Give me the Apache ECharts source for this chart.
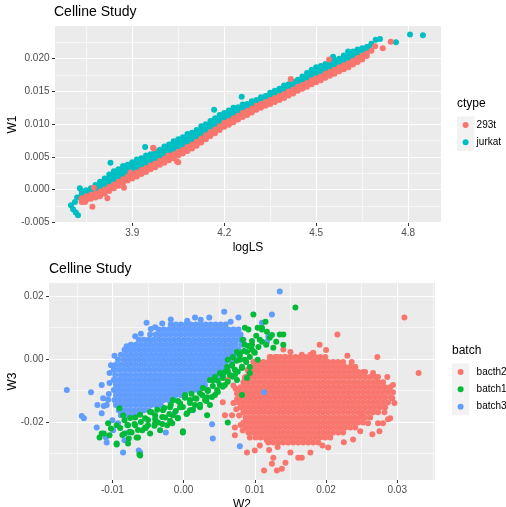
<!DOCTYPE html>
<html>
<head>
<meta charset="utf-8">
<script src="https://cdn.jsdelivr.net/npm/echarts@6.0.0/dist/echarts.min.js"></script>
<style>
  html, body { margin: 0; padding: 0; background: #ffffff; }
  #chart { width: 506px; height: 507px; }
</style>
</head>
<body>
<div id="chart"></div>
<script>
// ---------- Panel 1: W1 against logLS, coloured by cell type ----------
// Each column: [logLS, [W1 values read at that logLS]]
const jurkatCols = [
  [3.735, [-0.0002, -0.0007, -0.0012]],
  [3.750, [-0.0001, -0.0005, -0.0010]],
  [3.765, [0.0002, -0.0002, -0.0007]],
  [3.780, [0.0007, 0.0004, -0.0001, -0.0004]],
  [3.795, [0.0012, 0.0008, 0.0003, -0.0001]],
  [3.810, [0.0017, 0.0013, 0.0007, 0.0003]],
  [3.825, [0.0023, 0.0018, 0.0012, 0.0007]],
  [3.840, [0.0028, 0.0022, 0.0016, 0.0011]],
  [3.855, [0.0031, 0.0026, 0.0020, 0.0015]],
  [3.870, [0.0036, 0.0030, 0.0024, 0.0019]],
  [3.885, [0.0038, 0.0033, 0.0027, 0.0022]],
  [3.900, [0.0042, 0.0036, 0.0031, 0.0025]],
  [3.915, [0.0046, 0.0039, 0.0034, 0.0028]],
  [3.930, [0.0048, 0.0042, 0.0037, 0.0031]],
  [3.945, [0.0052, 0.0045, 0.0040, 0.0034]],
  [3.960, [0.0054, 0.0048, 0.0043, 0.0037]],
  [3.975, [0.0058, 0.0051, 0.0046, 0.0040]],
  [3.990, [0.0061, 0.0055, 0.0049, 0.0043]],
  [4.005, [0.0066, 0.0059, 0.0053, 0.0046]],
  [4.020, [0.0069, 0.0062, 0.0057, 0.0050]],
  [4.035, [0.0074, 0.0067, 0.0061, 0.0055]],
  [4.050, [0.0077, 0.0071, 0.0065, 0.0059]],
  [4.065, [0.0080, 0.0074, 0.0068, 0.0062]],
  [4.080, [0.0085, 0.0077, 0.0072, 0.0065]],
  [4.095, [0.0087, 0.0080, 0.0075, 0.0068]],
  [4.110, [0.0091, 0.0084, 0.0079, 0.0072]],
  [4.125, [0.0097, 0.0089, 0.0084, 0.0077]],
  [4.140, [0.0100, 0.0094, 0.0088, 0.0082]],
  [4.155, [0.0105, 0.0099, 0.0093, 0.0087]],
  [4.170, [0.0109, 0.0102, 0.0097, 0.0090]],
  [4.185, [0.0114, 0.0106, 0.0101, 0.0094]],
  [4.200, [0.0117, 0.0110, 0.0105, 0.0098]],
  [4.215, [0.0121, 0.0114, 0.0108, 0.0101]],
  [4.230, [0.0125, 0.0117, 0.0112, 0.0105]],
  [4.245, [0.0126, 0.0120, 0.0115, 0.0109]],
  [4.260, [0.0130, 0.0124, 0.0118, 0.0113]],
  [4.275, [0.0131, 0.0127, 0.0121, 0.0117]],
  [4.290, [0.0135, 0.0130, 0.0125, 0.0121]],
  [4.305, [0.0137, 0.0133, 0.0128, 0.0125]],
  [4.320, [0.0141, 0.0136, 0.0131, 0.0128]],
  [4.335, [0.0143, 0.0139, 0.0134, 0.0131]],
  [4.350, [0.0148, 0.0143, 0.0138, 0.0134]],
  [4.365, [0.0151, 0.0146, 0.0141, 0.0136]],
  [4.380, [0.0154, 0.0150, 0.0144, 0.0140]],
  [4.395, [0.0159, 0.0153, 0.0148, 0.0143]],
  [4.410, [0.0161, 0.0156, 0.0151, 0.0146]],
  [4.425, [0.0165, 0.0160, 0.0154, 0.0150]],
  [4.440, [0.0168, 0.0163, 0.0158, 0.0153]],
  [4.455, [0.0173, 0.0167, 0.0162, 0.0157]],
  [4.470, [0.0178, 0.0173, 0.0167, 0.0162]],
  [4.485, [0.0183, 0.0178, 0.0172, 0.0167]],
  [4.500, [0.0187, 0.0181, 0.0176, 0.0170]],
  [4.515, [0.0189, 0.0184, 0.0179, 0.0174]],
  [4.530, [0.0192, 0.0187, 0.0181, 0.0177]],
  [4.545, [0.0194, 0.0190, 0.0185, 0.0181]],
  [4.560, [0.0198, 0.0193, 0.0188, 0.0185]],
  [4.575, [0.0200, 0.0197, 0.0192, 0.0189]],
  [4.590, [0.0205, 0.0200, 0.0195, 0.0192]],
  [4.605, [0.0207, 0.0203, 0.0198, 0.0195]],
  [4.620, [0.0211, 0.0206, 0.0202, 0.0198]],
  [4.635, [0.0214, 0.0209, 0.0205, 0.0203]],
  [4.650, [0.0216, 0.0212, 0.0208]],
  [4.665, [0.0218, 0.0213]]
];
const jurkatExtra = [
  [3.700, -0.0024], [3.707, -0.0030], [3.716, -0.0035], [3.723, -0.0039],
  [3.713, -0.0019], [3.720, -0.0012], [3.729, 0.0002], [3.829, 0.0041],
  [3.942, 0.0065], [4.167, 0.0122], [4.257, 0.0142], [4.555, 0.0203],
  [4.604, 0.0211], [4.672, 0.0218], [4.680, 0.0223], [4.694, 0.0229],
  [4.708, 0.0230], [4.760, 0.0225], [4.806, 0.0237], [4.848, 0.0236]
];
const t293Cols = [
  [3.735, [-0.0013, -0.0016, -0.0019]],
  [3.750, [-0.0010, -0.0013, -0.0016]],
  [3.765, [-0.0008, -0.0011, -0.0014]],
  [3.780, [-0.0006, -0.0009, -0.0012]],
  [3.795, [-0.0004, -0.0007, -0.0010]],
  [3.810, [0.0000, -0.0003, -0.0006]],
  [3.825, [0.0004, 0.0001, -0.0002]],
  [3.840, [0.0008, 0.0005, 0.0002]],
  [3.855, [0.0012, 0.0009, 0.0006]],
  [3.870, [0.0016, 0.0013, 0.0010]],
  [3.885, [0.0020, 0.0017, 0.0014]],
  [3.900, [0.0023, 0.0020, 0.0017]],
  [3.915, [0.0026, 0.0023, 0.0020]],
  [3.930, [0.0030, 0.0027, 0.0024]],
  [3.945, [0.0033, 0.0030, 0.0027]],
  [3.960, [0.0037, 0.0034, 0.0031]],
  [3.975, [0.0040, 0.0037, 0.0034]],
  [3.990, [0.0044, 0.0041, 0.0038]],
  [4.005, [0.0047, 0.0044, 0.0041]],
  [4.020, [0.0051, 0.0048, 0.0045]],
  [4.035, [0.0054, 0.0051, 0.0048]],
  [4.050, [0.0058, 0.0055, 0.0052]],
  [4.065, [0.0061, 0.0058, 0.0055]],
  [4.080, [0.0065, 0.0062, 0.0059]],
  [4.095, [0.0069, 0.0066, 0.0063]],
  [4.110, [0.0073, 0.0070, 0.0067]],
  [4.125, [0.0078, 0.0075, 0.0072]],
  [4.140, [0.0083, 0.0080, 0.0077]],
  [4.155, [0.0088, 0.0085, 0.0082]],
  [4.170, [0.0092, 0.0089, 0.0086]],
  [4.185, [0.0097, 0.0094, 0.0091]],
  [4.200, [0.0102, 0.0099, 0.0096]],
  [4.215, [0.0105, 0.0102, 0.0099]],
  [4.230, [0.0109, 0.0106, 0.0103]],
  [4.245, [0.0113, 0.0110, 0.0107]],
  [4.260, [0.0117, 0.0114, 0.0111]],
  [4.275, [0.0120, 0.0117, 0.0114]],
  [4.290, [0.0124, 0.0121, 0.0118]],
  [4.305, [0.0128, 0.0125, 0.0122]],
  [4.320, [0.0131, 0.0128, 0.0125]],
  [4.335, [0.0134, 0.0131, 0.0128]],
  [4.350, [0.0137, 0.0134, 0.0131]],
  [4.365, [0.0140, 0.0137, 0.0134]],
  [4.380, [0.0143, 0.0140, 0.0137]],
  [4.395, [0.0146, 0.0143, 0.0140]],
  [4.410, [0.0150, 0.0147, 0.0144]],
  [4.425, [0.0153, 0.0150, 0.0147]],
  [4.440, [0.0157, 0.0154, 0.0151]],
  [4.455, [0.0160, 0.0157, 0.0154]],
  [4.470, [0.0163, 0.0160, 0.0157]],
  [4.485, [0.0167, 0.0164, 0.0161]],
  [4.500, [0.0170, 0.0167, 0.0164]],
  [4.515, [0.0173, 0.0170, 0.0167]],
  [4.530, [0.0177, 0.0174, 0.0171]],
  [4.545, [0.0180, 0.0177, 0.0174]],
  [4.560, [0.0183, 0.0180, 0.0177]],
  [4.575, [0.0187, 0.0184, 0.0181]],
  [4.590, [0.0190, 0.0187, 0.0184]],
  [4.605, [0.0193, 0.0190, 0.0187]],
  [4.620, [0.0197, 0.0194, 0.0191]],
  [4.635, [0.0201, 0.0198, 0.0195]],
  [4.650, [0.0205, 0.0202, 0.0199]],
  [4.665, [0.0208, 0.0204]]
];
const t293Extra = [
  [3.746, -0.0019], [3.770, -0.0026], [3.775, 0.0003], [3.797, -0.0003],
  [3.819, -0.0013], [3.873, 0.0003], [3.894, 0.0026], [3.968, 0.0064],
  [3.970, 0.0063], [4.017, 0.0052], [4.046, 0.0043], [4.050, 0.0042],
  [4.417, 0.0169], [4.542, 0.0199], [4.680, 0.0212], [4.692, 0.0219],
  [4.717, 0.0216], [4.743, 0.0226]
];
const logLSTicks = [3.9, 4.2, 4.5, 4.8];
const logLSMinor = [3.75, 4.05, 4.35, 4.65];
const w1Ticks = [-0.005, 0.000, 0.005, 0.010, 0.015, 0.020];
const w1Minor = [-0.0025, 0.0025, 0.0075, 0.0125, 0.0175, 0.0225];

// ---------- Panel 2: W3 against W2, coloured by batch ----------
// Each row: [W3, [W2 values read along that W3 level]]
const batch3Rows = [
  [0.0109, [-0.0018, -0.0011, -0.0004, 0.0003, 0.0010, 0.0017, 0.0024, 0.0031, 0.0038, 0.0045, 0.0052, 0.0059]],
  [0.0093, [-0.0035, -0.0028, -0.0021, -0.0014, -0.0007, 0.0000, 0.0007, 0.0014, 0.0021, 0.0028, 0.0035, 0.0042, 0.0049, 0.0056, 0.0063, 0.0070, 0.0077]],
  [0.0077, [-0.0047, -0.0039, -0.0032, -0.0025, -0.0018, -0.0011, -0.0004, 0.0003, 0.0010, 0.0017, 0.0024, 0.0031, 0.0038, 0.0045, 0.0052, 0.0059, 0.0066, 0.0073, 0.0080]],
  [0.0061, [-0.0063, -0.0056, -0.0049, -0.0042, -0.0035, -0.0028, -0.0021, -0.0014, -0.0007, 0.0000, 0.0007, 0.0014, 0.0021, 0.0028, 0.0035, 0.0042, 0.0049, 0.0056, 0.0063, 0.0070, 0.0077, 0.0084]],
  [0.0045, [-0.0074, -0.0067, -0.0060, -0.0053, -0.0046, -0.0039, -0.0032, -0.0025, -0.0018, -0.0011, -0.0004, 0.0003, 0.0010, 0.0017, 0.0024, 0.0031, 0.0038, 0.0045, 0.0052, 0.0059, 0.0066, 0.0073, 0.0081]],
  [0.0029, [-0.0083, -0.0077, -0.0070, -0.0063, -0.0056, -0.0049, -0.0042, -0.0035, -0.0028, -0.0021, -0.0014, -0.0007, 0.0000, 0.0007, 0.0014, 0.0021, 0.0028, 0.0035, 0.0042, 0.0049, 0.0056, 0.0063, 0.0070, 0.0077]],
  [0.0013, [-0.0088, -0.0081, -0.0074, -0.0067, -0.0060, -0.0053, -0.0046, -0.0039, -0.0032, -0.0025, -0.0018, -0.0011, -0.0004, 0.0003, 0.0010, 0.0017, 0.0024, 0.0031, 0.0038, 0.0045, 0.0052, 0.0059, 0.0066, 0.0073]],
  [-0.0003, [-0.0092, -0.0084, -0.0077, -0.0070, -0.0063, -0.0056, -0.0049, -0.0042, -0.0035, -0.0028, -0.0021, -0.0014, -0.0007, 0.0000, 0.0007, 0.0014, 0.0021, 0.0028, 0.0035, 0.0042, 0.0049, 0.0056, 0.0063, 0.0069]],
  [-0.0019, [-0.0095, -0.0088, -0.0081, -0.0074, -0.0067, -0.0060, -0.0053, -0.0046, -0.0039, -0.0032, -0.0025, -0.0018, -0.0011, -0.0004, 0.0003, 0.0010, 0.0017, 0.0024, 0.0031, 0.0038, 0.0045, 0.0052, 0.0059]],
  [-0.0035, [-0.0098, -0.0091, -0.0084, -0.0077, -0.0070, -0.0063, -0.0056, -0.0049, -0.0042, -0.0035, -0.0028, -0.0021, -0.0014, -0.0007, 0.0000, 0.0007, 0.0014, 0.0021, 0.0028, 0.0035, 0.0042, 0.0049, 0.0056]],
  [-0.0051, [-0.0096, -0.0088, -0.0081, -0.0074, -0.0067, -0.0060, -0.0053, -0.0046, -0.0039, -0.0032, -0.0025, -0.0018, -0.0011, -0.0004, 0.0003, 0.0010, 0.0017, 0.0024, 0.0031, 0.0038, 0.0045, 0.0051]],
  [-0.0067, [-0.0098, -0.0091, -0.0084, -0.0077, -0.0070, -0.0063, -0.0056, -0.0049, -0.0042, -0.0035, -0.0028, -0.0021, -0.0014, -0.0007, 0.0000, 0.0007, 0.0014, 0.0021, 0.0028, 0.0035, 0.0042]],
  [-0.0083, [-0.0095, -0.0088, -0.0081, -0.0074, -0.0067, -0.0060, -0.0053, -0.0046, -0.0039, -0.0032, -0.0025, -0.0018, -0.0011, -0.0004, 0.0003, 0.0010, 0.0017, 0.0024, 0.0030]],
  [-0.0099, [-0.0098, -0.0091, -0.0084, -0.0077, -0.0070, -0.0063, -0.0056, -0.0049, -0.0042, -0.0035, -0.0028, -0.0021, -0.0014, -0.0007, 0.0000, 0.0007, 0.0014, 0.0020]],
  [-0.0115, [-0.0095, -0.0088, -0.0081, -0.0074, -0.0067, -0.0060, -0.0053, -0.0046, -0.0039, -0.0032, -0.0025, -0.0018, -0.0011, -0.0004, 0.0002]],
  [-0.0131, [-0.0097, -0.0091, -0.0084, -0.0077, -0.0070, -0.0063, -0.0056, -0.0049, -0.0042, -0.0035, -0.0028, -0.0021, -0.0015]],
  [-0.0147, [-0.0095, -0.0088, -0.0081, -0.0074, -0.0067, -0.0060, -0.0053, -0.0046, -0.0039, -0.0032]],
  [-0.0163, [-0.0091, -0.0084, -0.0077, -0.0070, -0.0063, -0.0056, -0.0049]],
  [-0.0179, [-0.0088, -0.0081, -0.0074, -0.0067]]
];
const batch3Extra = [
  [-0.0018, 0.0125], [0.0016, 0.0131], [0.0036, 0.0131], [0.0057, 0.0150], [0.0077, 0.0131],
  [-0.0052, 0.0115], [0.0005, 0.0121], [0.0024, 0.0124], [-0.0030, 0.0112], [0.0066, 0.0118],
  [-0.0164, -0.0099], [-0.0130, -0.0106], [-0.0143, -0.0182], [-0.0140, -0.0189], [-0.0122, -0.0218],
  [-0.0109, -0.0250], [-0.0085, -0.0298], [-0.0061, -0.0298], [-0.0063, -0.0291], [-0.0025, -0.0234],
  [0.0040, -0.0208], [0.0041, -0.0253], [0.0079, -0.0278], [0.0113, -0.0106], [0.0135, 0.0214],
  [0.0124, 0.0141], [0.0110, 0.0115], [0.0119, 0.0070], [0.0117, 0.0054], [-0.0121, -0.0147],
  [-0.0115, -0.0083], [-0.0104, -0.0077], [-0.0115, -0.0173], [-0.0108, -0.0266], [-0.0083, -0.0259],
  [-0.0078, -0.0234], [-0.0099, -0.0227], [-0.0105, -0.0112], [-0.0012, -0.0170], [0.0013, -0.0163],
  [-0.0104, -0.0045], [-0.0106, -0.0130], [-0.0102, -0.0020], [-0.0097, 0.0010], [-0.0112, -0.0150],
  [-0.0100, -0.0195], [-0.0092, -0.0205], [-0.0080, 0.0040], [-0.0068, 0.0072], [-0.0060, 0.0080],
  [-0.0046, 0.0095], [-0.0040, 0.0100], [-0.0113, -0.0125], [-0.0108, -0.0147]
];
const batch1Points = [
  [-0.0118, -0.0250], [-0.0112, -0.0237], [-0.0106, -0.0205], [-0.0104, -0.0243], [-0.0102, -0.0221],
  [-0.0094, -0.0269], [-0.0094, -0.0211], [-0.0090, -0.0157], [-0.0085, -0.0179], [-0.0083, -0.0237],
  [-0.0078, -0.0269], [-0.0078, -0.0211], [-0.0073, -0.0234], [-0.0068, -0.0186], [-0.0068, -0.0211],
  [-0.0064, -0.0250], [-0.0061, -0.0307], [-0.0054, -0.0189], [-0.0054, -0.0218], [-0.0047, -0.0237],
  [-0.0045, -0.0170], [-0.0040, -0.0179], [-0.0040, -0.0205], [-0.0033, -0.0227], [-0.0029, -0.0163],
  [-0.0026, -0.0186], [-0.0023, -0.0211], [-0.0019, -0.0154], [-0.0016, -0.0205], [-0.0015, -0.0179],
  [-0.0015, -0.0131], [-0.0005, -0.0154], [-0.0005, -0.0141], [-0.0001, -0.0234], [0.0005, -0.0173],
  [0.0009, -0.0131], [0.0016, -0.0125], [0.0023, -0.0109], [0.0023, -0.0154], [0.0027, -0.0093],
  [0.0033, -0.0122], [0.0033, -0.0179], [0.0034, -0.0099], [0.0037, -0.0147], [0.0041, -0.0067],
  [0.0044, -0.0058], [0.0047, -0.0099], [0.0051, -0.0045], [0.0051, -0.0083], [0.0055, -0.0061],
  [0.0061, -0.0026], [0.0062, -0.0003], [0.0062, -0.0202], [0.0065, -0.0051], [0.0069, 0.0006],
  [0.0072, -0.0035], [0.0075, 0.0022], [0.0075, -0.0067], [0.0079, 0.0019], [0.0082, -0.0029],
  [0.0082, -0.0115], [0.0083, 0.0061], [0.0086, 0.0099], [0.0089, 0.0022], [0.0089, -0.0061],
  [0.0091, 0.0093], [0.0093, -0.0026], [0.0093, -0.0045], [0.0096, 0.0045], [0.0098, 0.0141],
  [0.0100, 0.0019], [0.0104, 0.0099], [0.0104, -0.0003], [0.0107, 0.0061], [0.0117, 0.0086],
  [0.0121, 0.0067], [0.0126, 0.0035], [0.0135, 0.0077], [0.0140, 0.0045], [0.0140, 0.0077],
  [0.0157, 0.0163], [-0.0077, -0.0253], [-0.0062, -0.0304], [-0.0115, -0.0237], [-0.0094, -0.0272],
  [-0.0066, -0.0250], [-0.0001, -0.0230], [0.0068, -0.0019], [0.0058, -0.0042], [0.0079, -0.0003],
  [0.0016, -0.0147], [0.0002, -0.0115], [-0.0036, -0.0202], [-0.0050, -0.0211], [-0.0058, -0.0227],
  [-0.0083, -0.0195], [0.0009, -0.0163], [-0.0008, -0.0189], [0.0030, -0.0131], [0.0044, -0.0115],
  [0.0058, -0.0083], [0.0072, -0.0051], [0.0086, -0.0003], [0.0096, 0.0029], [0.0086, 0.0045],
  [0.0110, 0.0093], [0.0115, 0.0118], [0.0037, -0.0067],
  // the dense strip along the lower-right edge of batch3
  [-0.0089, -0.0220], [-0.0079, -0.0210], [-0.0069, -0.0207], [-0.0060, -0.0201], [-0.0050, -0.0194],
  [-0.0040, -0.0191], [-0.0030, -0.0185], [-0.0020, -0.0175], [-0.0011, -0.0166], [-0.0001, -0.0153],
  [0.0009, -0.0140], [0.0018, -0.0127], [0.0026, -0.0115], [0.0034, -0.0102], [0.0041, -0.0086],
  [0.0048, -0.0070], [0.0055, -0.0054], [0.0062, -0.0038], [0.0068, -0.0022], [0.0074, -0.0006],
  [0.0079, 0.0010], [0.0085, 0.0025], [0.0091, 0.0041], [0.0096, 0.0057], [0.0102, 0.0073],
  [-0.0086, -0.0242], [-0.0075, -0.0232], [-0.0064, -0.0226], [-0.0053, -0.0220], [-0.0041, -0.0213],
  [-0.0030, -0.0207], [-0.0019, -0.0197], [-0.0008, -0.0188], [0.0004, -0.0175], [0.0013, -0.0162],
  [0.0023, -0.0146], [0.0032, -0.0134], [0.0040, -0.0121], [0.0048, -0.0105], [0.0055, -0.0089],
  [0.0062, -0.0073], [0.0069, -0.0057], [0.0076, -0.0041], [0.0082, -0.0025], [0.0088, -0.0010],
  [0.0093, 0.0006], [0.0099, 0.0022], [0.0105, 0.0038], [0.0110, 0.0054],
  [-0.0047, -0.0169], [-0.0037, -0.0162], [-0.0027, -0.0156], [-0.0018, -0.0146], [-0.0008, -0.0134],
  [0.0002, -0.0124], [0.0011, -0.0111], [-0.0061, -0.0178], [-0.0075, -0.0188],
  [0.0110, 0.0099], [0.0124, 0.0076], [0.0116, 0.0045], [0.0130, 0.0054]
];
const bacth2Rows = [
  [0.0006, [0.0122, 0.0129, 0.0136, 0.0143, 0.0150, 0.0157, 0.0164, 0.0171, 0.0178, 0.0185, 0.0192, 0.0199]],
  [-0.0010, [0.0098, 0.0105, 0.0112, 0.0119, 0.0126, 0.0133, 0.0140, 0.0147, 0.0154, 0.0161, 0.0168, 0.0175, 0.0182, 0.0189, 0.0196, 0.0203, 0.0210, 0.0217, 0.0224]],
  [-0.0026, [0.0094, 0.0101, 0.0108, 0.0115, 0.0122, 0.0129, 0.0136, 0.0143, 0.0150, 0.0157, 0.0164, 0.0171, 0.0178, 0.0185, 0.0192, 0.0199, 0.0206, 0.0213, 0.0220, 0.0227, 0.0234, 0.0241]],
  [-0.0042, [0.0091, 0.0098, 0.0105, 0.0112, 0.0119, 0.0126, 0.0133, 0.0140, 0.0147, 0.0154, 0.0161, 0.0168, 0.0175, 0.0182, 0.0189, 0.0196, 0.0203, 0.0210, 0.0217, 0.0224, 0.0231, 0.0238, 0.0245, 0.0252]],
  [-0.0058, [0.0087, 0.0094, 0.0101, 0.0108, 0.0115, 0.0122, 0.0129, 0.0136, 0.0143, 0.0150, 0.0157, 0.0164, 0.0171, 0.0178, 0.0185, 0.0192, 0.0199, 0.0206, 0.0213, 0.0220, 0.0227, 0.0234, 0.0241, 0.0248, 0.0255, 0.0262, 0.0269]],
  [-0.0074, [0.0084, 0.0091, 0.0098, 0.0105, 0.0112, 0.0119, 0.0126, 0.0133, 0.0140, 0.0147, 0.0154, 0.0161, 0.0168, 0.0175, 0.0182, 0.0189, 0.0196, 0.0203, 0.0210, 0.0217, 0.0224, 0.0231, 0.0238, 0.0245, 0.0252, 0.0259, 0.0266, 0.0273, 0.0280]],
  [-0.0090, [0.0080, 0.0087, 0.0094, 0.0101, 0.0108, 0.0115, 0.0122, 0.0129, 0.0136, 0.0143, 0.0150, 0.0157, 0.0164, 0.0171, 0.0178, 0.0185, 0.0192, 0.0199, 0.0206, 0.0213, 0.0220, 0.0227, 0.0234, 0.0241, 0.0248, 0.0255, 0.0262, 0.0269, 0.0276, 0.0283, 0.0290]],
  [-0.0106, [0.0077, 0.0084, 0.0091, 0.0098, 0.0105, 0.0112, 0.0119, 0.0126, 0.0133, 0.0140, 0.0147, 0.0154, 0.0161, 0.0168, 0.0175, 0.0182, 0.0189, 0.0196, 0.0203, 0.0210, 0.0217, 0.0224, 0.0231, 0.0238, 0.0245, 0.0252, 0.0259, 0.0266, 0.0273, 0.0280, 0.0287, 0.0294]],
  [-0.0122, [0.0080, 0.0087, 0.0094, 0.0101, 0.0108, 0.0115, 0.0122, 0.0129, 0.0136, 0.0143, 0.0150, 0.0157, 0.0164, 0.0171, 0.0178, 0.0185, 0.0192, 0.0199, 0.0206, 0.0213, 0.0220, 0.0227, 0.0234, 0.0241, 0.0248, 0.0255, 0.0262, 0.0269, 0.0276, 0.0283, 0.0291]],
  [-0.0138, [0.0077, 0.0084, 0.0091, 0.0098, 0.0105, 0.0112, 0.0119, 0.0126, 0.0133, 0.0140, 0.0147, 0.0154, 0.0161, 0.0168, 0.0175, 0.0182, 0.0189, 0.0196, 0.0203, 0.0210, 0.0217, 0.0224, 0.0231, 0.0238, 0.0245, 0.0252, 0.0259, 0.0266, 0.0273, 0.0280, 0.0287]],
  [-0.0154, [0.0080, 0.0087, 0.0094, 0.0101, 0.0108, 0.0115, 0.0122, 0.0129, 0.0136, 0.0143, 0.0150, 0.0157, 0.0164, 0.0171, 0.0178, 0.0185, 0.0192, 0.0199, 0.0206, 0.0213, 0.0220, 0.0227, 0.0234, 0.0241, 0.0248, 0.0255, 0.0262, 0.0269, 0.0276, 0.0283]],
  [-0.0170, [0.0084, 0.0091, 0.0098, 0.0105, 0.0112, 0.0119, 0.0126, 0.0133, 0.0140, 0.0147, 0.0154, 0.0161, 0.0168, 0.0175, 0.0182, 0.0189, 0.0196, 0.0203, 0.0210, 0.0217, 0.0224, 0.0231, 0.0238, 0.0245, 0.0252, 0.0259, 0.0266, 0.0273]],
  [-0.0186, [0.0087, 0.0094, 0.0101, 0.0108, 0.0115, 0.0122, 0.0129, 0.0136, 0.0143, 0.0150, 0.0157, 0.0164, 0.0171, 0.0178, 0.0185, 0.0192, 0.0199, 0.0206, 0.0213, 0.0220, 0.0227, 0.0234, 0.0241, 0.0248, 0.0255, 0.0262]],
  [-0.0202, [0.0084, 0.0091, 0.0098, 0.0105, 0.0112, 0.0119, 0.0126, 0.0133, 0.0140, 0.0147, 0.0154, 0.0161, 0.0168, 0.0175, 0.0182, 0.0189, 0.0196, 0.0203, 0.0210, 0.0217, 0.0224, 0.0231, 0.0238, 0.0245, 0.0252]],
  [-0.0218, [0.0087, 0.0094, 0.0101, 0.0108, 0.0115, 0.0122, 0.0129, 0.0136, 0.0143, 0.0150, 0.0157, 0.0164, 0.0171, 0.0178, 0.0185, 0.0192, 0.0199, 0.0206, 0.0213, 0.0220, 0.0227, 0.0234, 0.0241]],
  [-0.0234, [0.0091, 0.0098, 0.0105, 0.0112, 0.0119, 0.0126, 0.0133, 0.0140, 0.0147, 0.0154, 0.0161, 0.0168, 0.0175, 0.0182, 0.0189, 0.0196, 0.0203, 0.0210, 0.0217, 0.0224]],
  [-0.0250, [0.0101, 0.0108, 0.0115, 0.0122, 0.0129, 0.0136, 0.0143, 0.0150, 0.0157, 0.0164, 0.0171, 0.0178, 0.0185, 0.0192, 0.0199, 0.0206]],
  [-0.0266, [0.0119, 0.0126, 0.0133, 0.0140, 0.0147, 0.0154, 0.0161, 0.0168, 0.0175, 0.0182, 0.0189]]
];
const bacth2Extra = [
  [0.0310, 0.0131], [0.0330, -0.0045], [0.0216, 0.0077], [0.0191, 0.0045], [0.0272, 0.0006],
  [0.0294, -0.0083], [0.0293, -0.0125], [0.0290, -0.0189], [0.0287, -0.0192], [0.0273, -0.0205],
  [0.0280, -0.0205], [0.0259, -0.0205], [0.0251, -0.0173], [0.0248, -0.0230], [0.0238, -0.0256],
  [0.0203, -0.0282], [0.0178, -0.0298], [0.0166, -0.0314], [0.0161, -0.0314], [0.0150, -0.0298],
  [0.0143, -0.0330], [0.0138, -0.0349], [0.0131, -0.0355], [0.0124, -0.0333], [0.0126, -0.0314],
  [0.0113, -0.0355], [0.0117, -0.0259], [0.0107, -0.0275], [0.0100, -0.0291], [0.0089, -0.0298],
  [0.0093, -0.0250], [0.0072, -0.0243], [0.0072, -0.0218], [0.0068, -0.0179], [0.0058, -0.0179],
  [0.0055, -0.0138], [0.0062, -0.0067], [0.0033, -0.0099], [0.0166, 0.0013], [0.0182, 0.0019],
  [0.0266, -0.0045], [0.0273, -0.0058], [0.0286, -0.0058], [0.0255, -0.0042], [0.0236, -0.0010],
  [0.0241, -0.0026], [0.0121, 0.0006], [0.0131, 0.0006], [0.0142, 0.0006], [0.0103, -0.0029],
  [0.0178, 0.0013], [0.0150, 0.0022], [0.0140, 0.0030], [0.0200, 0.0028], [0.0230, 0.0010],
  [0.0075, -0.0110], [0.0070, -0.0140], [0.0074, -0.0160], [0.0275, -0.0230], [0.0265, -0.0240],
  [0.0225, -0.0265], [0.0195, -0.0275], [0.0132, -0.0280], [0.0120, -0.0290], [0.0282, -0.0170],
  [0.0296, -0.0140], [0.0073, -0.0095], [0.0075, -0.0128], [0.0070, -0.0085], [0.0078, -0.0180],
  [0.0080, -0.0210], [0.0083, -0.0228], [0.0086, -0.0060], [0.0090, -0.0035]
];
const w2Ticks = [-0.01, 0.00, 0.01, 0.02, 0.03];
const w2Minor = [-0.015, -0.005, 0.005, 0.015, 0.025, 0.035];
const w3Ticks = [-0.02, 0.00, 0.02];
const w3Minor = [-0.03, -0.01, 0.01];

// ---------- helpers ----------
function fromColumns(cols, extra) {
  const pts = [];
  cols.forEach(([x, ys]) => ys.forEach(y => pts.push([x, y])));
  return pts.concat(extra);
}
function fromRows(rows, extra) {
  const pts = [];
  rows.forEach(([y, xs]) => xs.forEach(x => pts.push([x, y])));
  return pts.concat(extra);
}

const FONT = 'Liberation Sans, Arial, sans-serif';

function majorAxis(grid, min, max, ticks, digits, nameOpts) {
  return Object.assign({
    type: 'value', gridIndex: grid, min: min, max: max,
    axisLine: { show: false, onZero: false },
    axisTick: { show: true, length: 3, customValues: ticks, lineStyle: { color: '#333333', width: 1 } },
    axisLabel: { show: true, customValues: ticks, margin: 5.5, color: '#4D4D4D', fontSize: 10, fontFamily: FONT,
                 formatter: v => Number(v).toFixed(digits) },
    splitLine: { show: true, lineStyle: { color: '#FFFFFF', width: 1.1 } },
    nameMoveOverlap: false,
    nameTextStyle: { fontSize: 12, color: '#000000', fontFamily: FONT }
  }, nameOpts || {});
}
function minorAxis(grid, min, max, ticks) {
  return {
    type: 'value', gridIndex: grid, min: min, max: max,
    axisLine: { show: false, onZero: false },
    axisTick: { show: false, customValues: ticks },
    axisLabel: { show: false, customValues: ticks },
    splitLine: { show: true, lineStyle: { color: '#FFFFFF', width: 0.55 } }
  };
}

const pointStyle = c => ({ color: c, opacity: 1 });

const legendText = pad => ({ fontSize: 10, color: '#000000', fontFamily: FONT, lineHeight: 17.3, padding: [0, 0, 0, pad] });

const option = {
  animation: false,
  backgroundColor: '#FFFFFF',
  textStyle: { fontFamily: FONT },
  title: [
    { text: 'Celline Study', left: 54, top: 5, padding: 0, textStyle: { fontSize: 14, fontWeight: 'normal', color: '#000000', fontFamily: FONT } },
    { text: 'Celline Study', left: 49, top: 262, padding: 0, textStyle: { fontSize: 14, fontWeight: 'normal', color: '#000000', fontFamily: FONT } },
    { text: 'ctype', left: 457, top: 98, padding: 0, textStyle: { fontSize: 12, fontWeight: 'normal', color: '#000000', fontFamily: FONT } },
    { text: 'batch', left: 452, top: 345, padding: 0, textStyle: { fontSize: 12, fontWeight: 'normal', color: '#000000', fontFamily: FONT } }
  ],
  grid: [
    { left: 55, top: 26, width: 386, height: 197, show: true, backgroundColor: '#EBEBEB', borderWidth: 0,
      containLabel: false, outerBoundsMode: 'none' },
    { left: 49, top: 283, width: 386, height: 197, show: true, backgroundColor: '#EBEBEB', borderWidth: 0,
      containLabel: false, outerBoundsMode: 'none' }
  ],
  xAxis: [
    majorAxis(0, 3.648, 4.907, logLSTicks, 1, { name: 'logLS', nameLocation: 'middle', nameGap: 19 }),
    minorAxis(0, 3.648, 4.907, logLSMinor),
    majorAxis(1, -0.0189, 0.0353, w2Ticks, 2, { name: 'W2', nameLocation: 'middle', nameGap: 19 }),
    minorAxis(1, -0.0189, 0.0353, w2Minor)
  ],
  yAxis: [
    majorAxis(0, -0.0051, 0.0250, w1Ticks, 3, { name: 'W1', nameLocation: 'middle', nameGap: 36, nameRotate: 90 }),
    minorAxis(0, -0.0051, 0.0250, w1Minor),
    majorAxis(1, -0.0385, 0.0241, w3Ticks, 2, { name: 'W3', nameLocation: 'middle', nameGap: 30, nameRotate: 90 }),
    minorAxis(1, -0.0385, 0.0241, w3Minor)
  ],
  legend: [
    { data: ['293t', 'jurkat'], orient: 'vertical', left: 462.6, top: 116.4, padding: 0, itemGap: 0,
      itemWidth: 6, itemHeight: 6, icon: 'circle', selectedMode: false, textStyle: legendText(3) },
    { data: ['bacth2', 'batch1', 'batch3'], orient: 'vertical', left: 457.6, top: 363.4, padding: 0, itemGap: 0,
      itemWidth: 6, itemHeight: 6, icon: 'circle', selectedMode: false, textStyle: legendText(8) }
  ],
  graphic: [
    { type: 'rect', left: 457, top: 116.4, shape: { width: 17.3, height: 34.6 }, style: { fill: '#F2F2F2' }, silent: true },
    { type: 'rect', left: 452, top: 363.4, shape: { width: 17.3, height: 51.9 }, style: { fill: '#F2F2F2' }, silent: true }
  ],
  series: [
    { name: 'jurkat', type: 'scatter', xAxisIndex: 0, yAxisIndex: 0, symbolSize: 6,
      itemStyle: pointStyle('#00BFC4'), emphasis: { disabled: true }, data: fromColumns(jurkatCols, jurkatExtra) },
    { name: '293t', type: 'scatter', xAxisIndex: 0, yAxisIndex: 0, symbolSize: 6,
      itemStyle: pointStyle('#F8766D'), emphasis: { disabled: true }, data: fromColumns(t293Cols, t293Extra) },
    { name: 'bacth2', type: 'scatter', xAxisIndex: 2, yAxisIndex: 2, symbolSize: 6,
      itemStyle: pointStyle('#F8766D'), emphasis: { disabled: true }, data: fromRows(bacth2Rows, bacth2Extra) },
    { name: 'batch3', type: 'scatter', xAxisIndex: 2, yAxisIndex: 2, symbolSize: 6,
      itemStyle: pointStyle('#619CFF'), emphasis: { disabled: true }, data: fromRows(batch3Rows, batch3Extra) },
    { name: 'batch1', type: 'scatter', xAxisIndex: 2, yAxisIndex: 2, symbolSize: 6,
      itemStyle: pointStyle('#00BA38'), emphasis: { disabled: true }, data: batch1Points }
  ]
};

const chart = echarts.init(document.getElementById('chart'), null, { renderer: 'canvas' });
chart.setOption(option);
</script>
</body>
</html>
